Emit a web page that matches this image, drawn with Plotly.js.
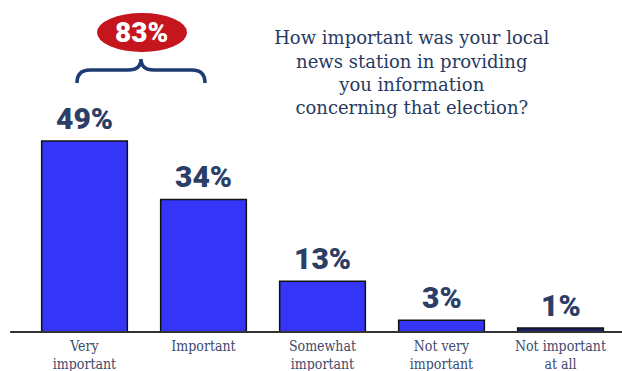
<!DOCTYPE html>
<html>
<head>
<meta charset="utf-8">
<script src="https://cdn.plot.ly/plotly-3.0.1.min.js"></script>
<style>html,body{margin:0;padding:0;background:#fff;}#chart{width:622px;height:371px;}</style>
</head>
<body>
<div id="chart"></div>
<script>
var categories = ["Very<br>important", "Important", "Somewhat<br>important", "Not very<br>important", "Not important<br>at all"];
var values = [49, 34, 13, 3, 1];
var valueLabels = ["49%", "34%", "13%", "3%", "1%"];
var barColors = ["#3535f7", "#3535f7", "#3535f7", "#3535f7", "#1c2266"];
var combinedLabel = "83%";
var titleText = "How important was your local<br>news station in providing<br>you information<br>concerning that election?";

var navy = "#2c3e66";
var labelAnn = values.map(function (v, i) {
  return {
    x: categories[i], y: v, xref: "x", yref: "y",
    text: valueLabels[i], showarrow: false,
    yanchor: "bottom", yshift: 3,
    font: {family: "Roboto, 'DejaVu Sans', sans-serif", size: 30, color: navy, weight: 900}
  };
});
labelAnn.push({
  x: 0.1958, y: 0.9162, xref: "paper", yref: "paper",
  xanchor: "center", yanchor: "middle",
  text: combinedLabel, showarrow: false,
  font: {family: "Roboto, 'DejaVu Sans', sans-serif", size: 28, color: "#ffffff", weight: 900}
});

var trace = {
  type: "bar",
  x: categories,
  y: values,
  marker: {color: barColors, line: {color: "#111111", width: 1.5}},
  hoverinfo: "none"
};

var layout = {
  width: 622, height: 371,
  margin: {l: 25, r: 2, t: 5, b: 39},
  paper_bgcolor: "#ffffff", plot_bgcolor: "rgba(0,0,0,0)",
  showlegend: false,
  bargap: 0.28,
  title: {
    text: titleText, xref: "container", yref: "container",
    x: 0.662, xanchor: "center", y: 0.881, yanchor: "top",
    font: {family: "'DejaVu Serif', serif", size: 18, color: "#283a62"}
  },
  xaxis: {
    type: "category", showgrid: false, zeroline: false, showline: false, ticks: "",
    ticklabelstandoff: 4,
    tickfont: {family: "'DejaVu Serif Condensed', 'DejaVu Serif', serif", size: 14, color: "#3d4a6e"},
    fixedrange: true
  },
  yaxis: {range: [0, 83.85], visible: false, fixedrange: true},
  shapes: [
    {type: "line", xref: "paper", yref: "paper", x0: -0.025, x1: 1.01, y0: 0, y1: 0,
     line: {color: "#333333", width: 2}},
    {type: "circle", layer: "below", xref: "paper", yref: "paper", x0: 0.1210, x1: 0.2723, y0: 0.8563, y1: 0.9755,
     fillcolor: "#c4161c", line: {width: 0}},
    {type: "path", xref: "paper", yref: "paper",
     path: "M 0.0874,0.7615 Q 0.0874,0.8012 0.1092,0.8012 L 0.1731,0.8012 Q 0.1950,0.8012 0.1950,0.8349 Q 0.1950,0.8012 0.2168,0.8012 L 0.2807,0.8012 Q 0.3025,0.8012 0.3025,0.7615",
     line: {color: "#1f3c72", width: 3.5}}
  ],
  annotations: labelAnn
};

Plotly.newPlot("chart", [trace], layout, {displayModeBar: false, staticPlot: true});
</script>
</body>
</html>
